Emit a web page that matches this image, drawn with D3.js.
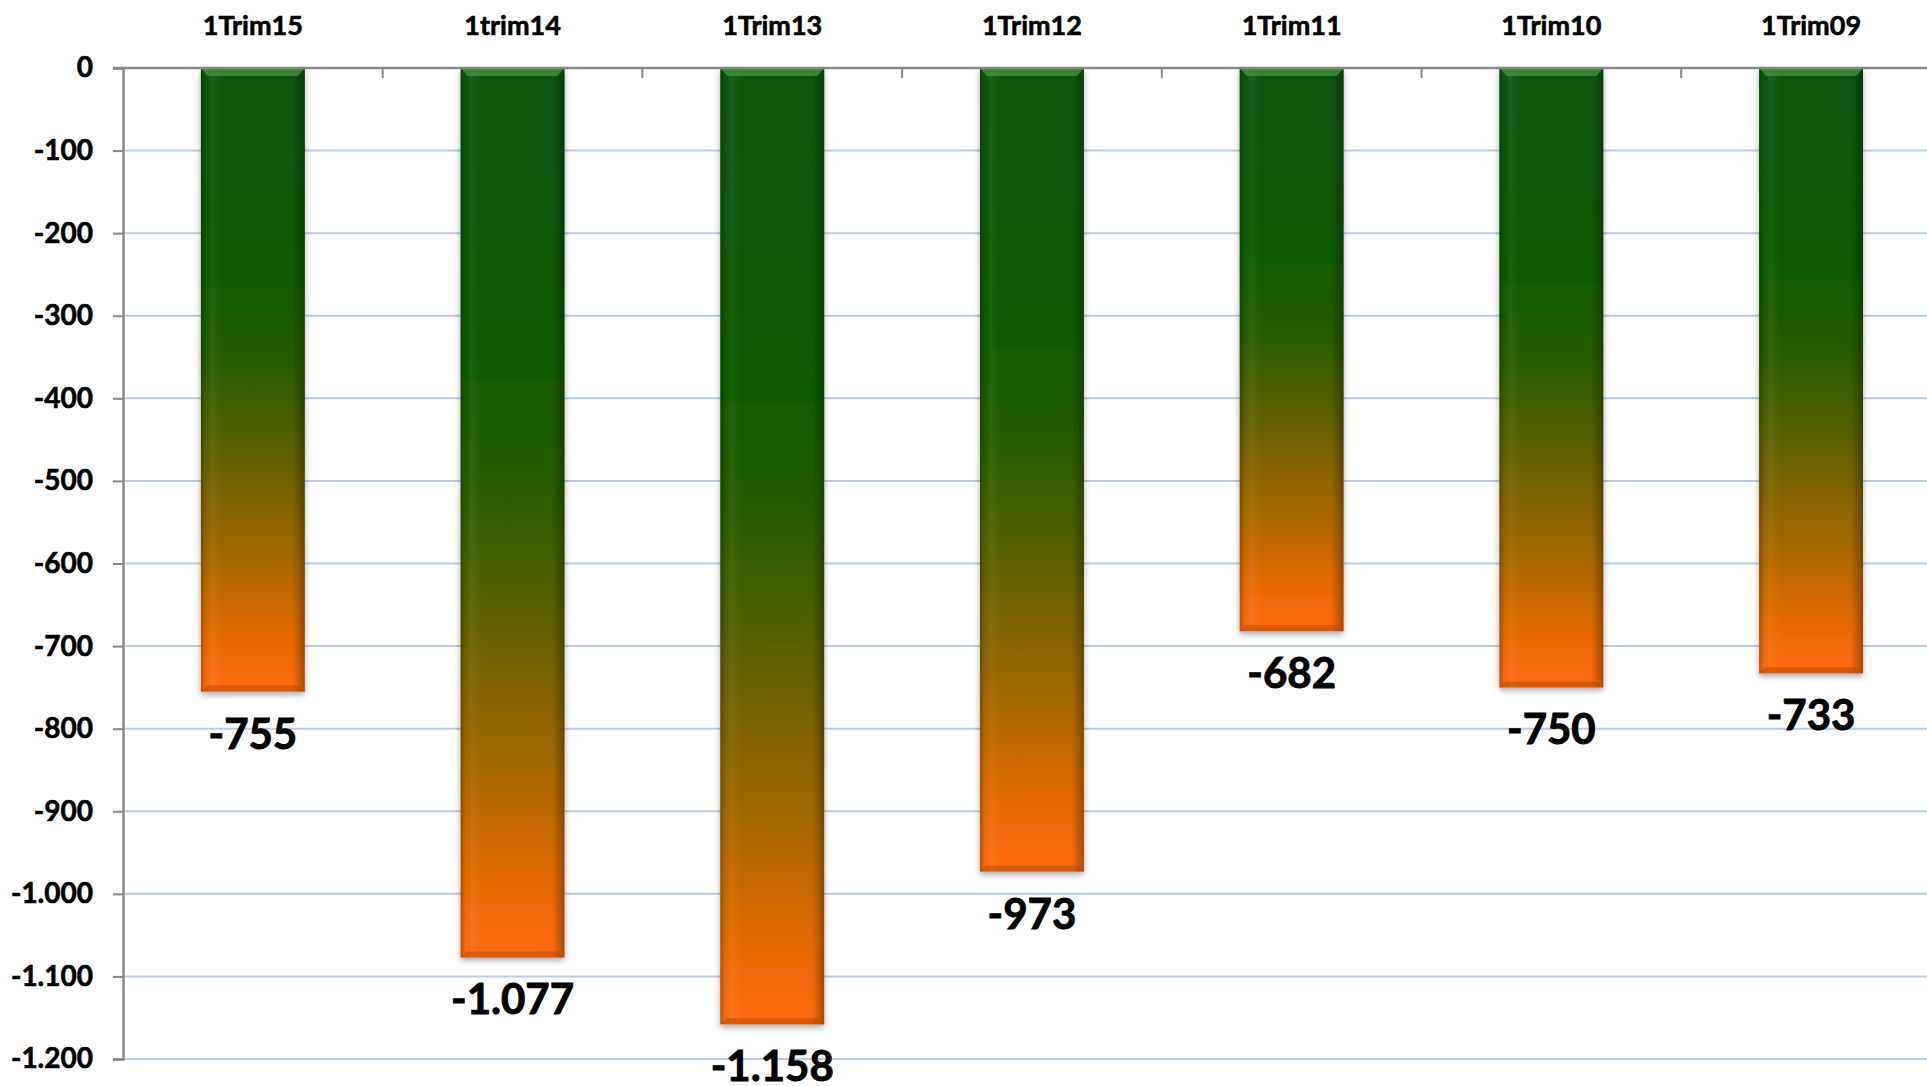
<!DOCTYPE html>
<html>
<head>
<meta charset="utf-8">
<script src="https://cdn.jsdelivr.net/npm/d3@7"></script>
<style>
  html, body { margin: 0; padding: 0; background: #ffffff; overflow: hidden; }
  svg { display: block; font-family: Lato, "Open Sans", "Liberation Sans", sans-serif; }
</style>
</head>
<body>
<svg id="chart" width="1927" height="1086"></svg>
<script>
// ---- data ----
const categories = ["1Trim15", "1trim14", "1Trim13", "1Trim12", "1Trim11", "1Trim10", "1Trim09"];
const values = [-755, -1077, -1158, -973, -682, -750, -733];
const yTicks = [0, -100, -200, -300, -400, -500, -600, -700, -800, -900, -1000, -1100, -1200];

(function () {
// ---- layout ----
const W = 1927, H = 1086;
const mLeft = 123, mTop = 68, mBottom = 1059;
const step = 259.7;
const mRight = mLeft + step * categories.length;

const svg = d3.select("#chart");

const x = d3.scaleBand()
  .domain(categories)
  .range([mLeft, mRight])
  .paddingInner(0.6)
  .paddingOuter(0.3);

const y = d3.scaleLinear()
  .domain([-1200, 0])
  .range([mBottom, mTop]);

const fmt = v => {
  const s = d3.format(",")(Math.abs(v)).replace(/,/g, ".");
  return (v < 0 ? "-" : "") + s;
};

// ---- defs ----
const defs = svg.append("defs");
const grad = defs.append("linearGradient")
  .attr("id", "barGrad").attr("x1", 0).attr("y1", 0).attr("x2", 0).attr("y2", 1);
[[0, "#0a5609"], [0.3, "#085a05"], [0.48, "#2a5d02"], [0.63, "#626100"], [0.78, "#a36700"], [0.91, "#e26b04"], [1, "#ff6a0c"]]
  .forEach(([o, c]) => grad.append("stop").attr("offset", o).attr("stop-color", c));

const side = defs.append("linearGradient")
  .attr("id", "sideGrad").attr("x1", 0).attr("y1", 0).attr("x2", 1).attr("y2", 0);
[[0, "rgba(0,0,0,0.25)"], [0.05, "rgba(0,0,0,0.0)"], [0.1, "rgba(255,255,255,0.06)"], [0.2, "rgba(255,255,255,0.0)"], [0.88, "rgba(0,0,0,0.0)"], [0.96, "rgba(0,0,0,0.2)"], [1, "rgba(0,0,0,0.32)"]]
  .forEach(([o, c]) => side.append("stop").attr("offset", o).attr("stop-color", c));

const shadow = defs.append("filter").attr("id", "shadow")
  .attr("x", "-20%").attr("y", "-5%").attr("width", "140%").attr("height", "115%");
shadow.append("feDropShadow").attr("dx", 0).attr("dy", 3).attr("stdDeviation", 3)
  .attr("flood-color", "#000").attr("flood-opacity", 0.35);

// ---- gridlines ----
svg.append("g")
  .selectAll("line")
  .data(yTicks.filter(d => d !== 0))
  .join("line")
  .attr("x1", mLeft).attr("x2", W)
  .attr("y1", d => y(d)).attr("y2", d => y(d))
  .attr("stroke", "#b9cbea").attr("stroke-width", 2);

// ---- y axis ----
const yAxis = svg.append("g")
  .attr("transform", `translate(${mLeft},0)`)
  .call(d3.axisLeft(y).tickValues(yTicks).tickSize(10).tickPadding(20).tickFormat(fmt));
yAxis.select(".domain").attr("stroke", "#888").attr("stroke-width", 2.5);
yAxis.selectAll(".tick line").attr("stroke", "#888").attr("stroke-width", 2);
yAxis.selectAll(".tick text")
  .attr("fill", "#000").attr("font-size", 28).attr("font-weight", 700)
  .attr("stroke", "#000").attr("stroke-width", 0.6)
  .attr("font-family", "Lato, 'Open Sans', sans-serif");

// ---- bars ----
const bars = svg.append("g");
bars.selectAll("rect.bar")
  .data(values)
  .join("rect")
  .attr("class", "bar")
  .attr("x", (d, i) => x(categories[i]))
  .attr("y", y(0))
  .attr("width", x.bandwidth())
  .attr("height", d => y(d) - y(0))
  .attr("fill", "url(#barGrad)")
  .attr("filter", "url(#shadow)");

bars.selectAll("rect.side")
  .data(values)
  .join("rect")
  .attr("class", "side")
  .attr("x", (d, i) => x(categories[i]))
  .attr("y", y(0))
  .attr("width", x.bandwidth())
  .attr("height", d => y(d) - y(0))
  .attr("fill", "url(#sideGrad)");

// top bevel
bars.selectAll("path.bevel")
  .data(values)
  .join("path")
  .attr("class", "bevel")
  .attr("d", (d, i) => {
    const x0 = x(categories[i]), w = x.bandwidth(), t = y(0);
    return `M${x0},${t}L${x0 + w},${t}L${x0 + w - 7},${t + 8}L${x0 + 7},${t + 8}Z`;
  })
  .attr("fill", "#4f9a44").attr("opacity", 0.7);

// bottom bevel
bars.selectAll("path.bbevel")
  .data(values)
  .join("path")
  .attr("class", "bbevel")
  .attr("d", (d, i) => {
    const x0 = x(categories[i]), w = x.bandwidth(), b = y(d);
    return `M${x0},${b}L${x0 + w},${b}L${x0 + w - 6},${b - 6}L${x0 + 6},${b - 6}Z`;
  })
  .attr("fill", "#b8460a").attr("opacity", 0.5);

// ---- top category axis ----
svg.append("line")
  .attr("x1", mLeft - 10).attr("x2", W)
  .attr("y1", y(0)).attr("y2", y(0))
  .attr("stroke", "#888").attr("stroke-width", 2.5);

svg.append("g")
  .selectAll("line")
  .data(d3.range(1, categories.length))
  .join("line")
  .attr("x1", i => x(categories[i]) - x.step() * x.paddingInner() / 2)
  .attr("x2", i => x(categories[i]) - x.step() * x.paddingInner() / 2)
  .attr("y1", y(0)).attr("y2", y(0) + 10)
  .attr("stroke", "#888").attr("stroke-width", 2);

svg.append("g")
  .selectAll("text")
  .data(categories)
  .join("text")
  .attr("x", d => x(d) + x.bandwidth() / 2)
  .attr("y", 35)
  .attr("text-anchor", "middle")
  .attr("font-size", 27).attr("font-weight", 700)
  .attr("fill", "#000").attr("stroke", "#000").attr("stroke-width", 0.6)
  .text(d => d);

// ---- value labels ----
svg.append("g")
  .selectAll("text")
  .data(values)
  .join("text")
  .attr("x", (d, i) => x(categories[i]) + x.bandwidth() / 2)
  .attr("y", d => y(d) + 57)
  .attr("text-anchor", "middle")
  .attr("font-size", 42).attr("font-weight", 700)
  .attr("fill", "#000").attr("stroke", "#000").attr("stroke-width", 0.9)
  .text(fmt);
})();
</script>
</body>
</html>
